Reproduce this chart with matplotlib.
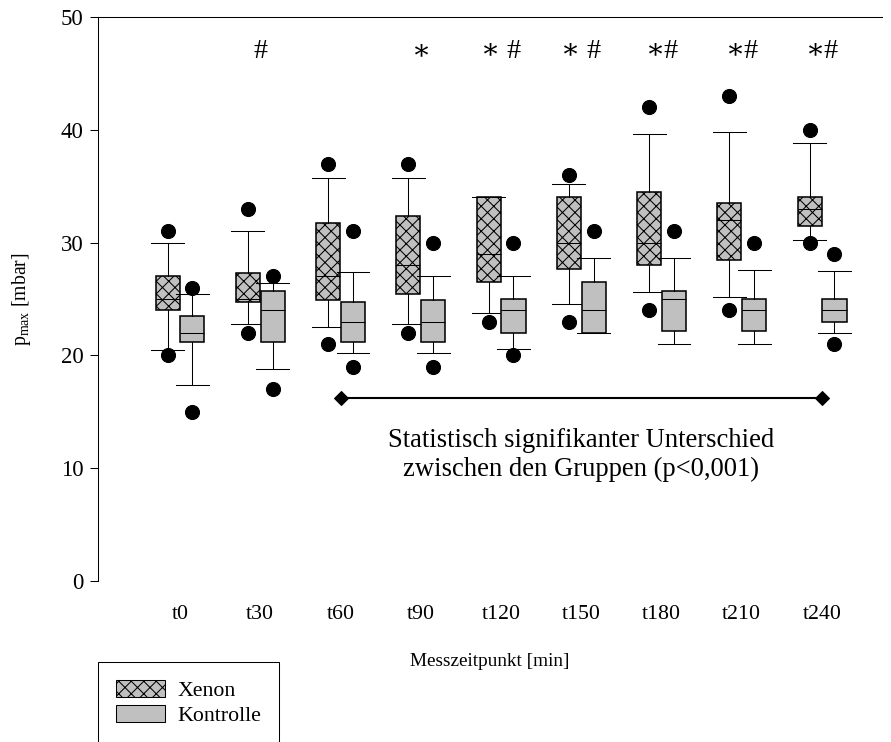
import numpy as np
import matplotlib
matplotlib.use("Agg")
import matplotlib.pyplot as plt
from matplotlib.patches import Patch

plt.rcParams['font.family'] = ['Liberation Serif', 'DejaVu Serif']
plt.rcParams['mathtext.fontset'] = 'custom'
plt.rcParams['mathtext.rm'] = 'Liberation Serif'
plt.rcParams['mathtext.it'] = 'Liberation Serif:italic'
plt.rcParams['hatch.linewidth'] = 1.0

# Messzeitpunkte
zeiten = ['t0', 't30', 't60', 't90', 't120', 't150', 't180', 't210', 't240']

# Xenon: 10./25./50./75./90. Perzentil und Einzelwerte (5./95.)
xe_p10 = [20.5, 22.8, 22.5, 22.8, 23.8, 24.6, 25.6, 25.2, 30.2]
xe_q1 = [24.0, 24.7, 24.9, 25.4, 26.5, 27.7, 28.0, 28.5, 31.5]
xe_med = [25.0, 25.0, 27.0, 28.0, 29.0, 30.0, 30.0, 32.0, 33.0]
xe_q3 = [27.0, 27.3, 31.7, 32.4, 34.0, 34.0, 34.5, 33.5, 34.0]
xe_p90 = [30.0, 31.0, 35.7, 35.7, 34.0, 35.2, 39.6, 39.8, 38.8]
xe_lo = [20, 22, 21, 22, 23, 23, 24, 24, 30]
xe_hi = [31, 33, 37, 37, np.nan, 36, 42, 43, 40]

# Kontrolle
ko_p10 = [17.4, 18.8, 20.2, 20.2, 20.6, 22.0, 21.0, 21.0, 22.0]
ko_q1 = [21.2, 21.2, 21.2, 21.2, 22.0, 22.0, 22.2, 22.2, 23.0]
ko_med = [22.0, 24.0, 23.0, 23.0, 24.0, 24.0, 25.0, 24.0, 24.0]
ko_q3 = [23.5, 25.7, 24.7, 24.9, 25.0, 26.5, 25.7, 25.0, 25.0]
ko_p90 = [25.4, 26.4, 27.4, 27.0, 27.0, 28.6, 28.6, 27.6, 27.5]
ko_lo = [15, 17, 19, 19, 20, np.nan, np.nan, np.nan, 21]
ko_hi = [26, 27, 31, 30, 30, 31, 31, 30, 29]

# Signifikanzen ueber den Boxen
zeichen = ['', '#', '', '\u2217', '\u2217 #', '\u2217 #', '\u2217#', '\u2217#', '\u2217#']
sig_von, sig_bis, sig_hoehe = 2, 8, 16.2


def stats(p10, q1, med, q3, p90, lo, hi):
    out = []
    for i in range(len(med)):
        fl = [v for v in (lo[i], hi[i]) if not np.isnan(v)]
        out.append(dict(whislo=p10[i], q1=q1[i], med=med[i], q3=q3[i],
                        whishi=p90[i], fliers=fl))
    return out


fig = plt.figure(figsize=(891 / 75, 742 / 75), dpi=75)
ax = fig.add_axes([98 / 891, 1 - 581 / 742, 784 / 891, 564 / 742])

x = np.arange(len(zeiten))
off = 0.155
bw = 0.30

common = dict(widths=bw, capwidths=0.41, patch_artist=True, manage_ticks=False,
              whiskerprops=dict(color='k', lw=1.0),
              capprops=dict(color='k', lw=1.0),
              medianprops=dict(color='k', lw=1.0),
              flierprops=dict(marker='o', markerfacecolor='k',
                              markeredgecolor='k', markersize=13.5))

b1 = ax.bxp(stats(xe_p10, xe_q1, xe_med, xe_q3, xe_p90, xe_lo, xe_hi),
            positions=x - off, **common)
b2 = ax.bxp(stats(ko_p10, ko_q1, ko_med, ko_q3, ko_p90, ko_lo, ko_hi),
            positions=x + off, **common)
for b in b1['boxes']:
    b.set_facecolor('#c0c0c0')
    b.set_edgecolor('k')
    b.set_linewidth(1.5)
    b.set_hatch('xx')
for b in b2['boxes']:
    b.set_facecolor('#c0c0c0')
    b.set_edgecolor('k')
    b.set_linewidth(1.5)

# Signifikanzlinie zwischen den Gruppen
ax.plot([sig_von, sig_bis], [sig_hoehe, sig_hoehe], color='k', lw=2,
        marker='D', markersize=9)
ax.text((sig_von + sig_bis) / 2, 11.2,
        'Statistisch signifikanter Unterschied\nzwischen den Gruppen (p<0,001)',
        ha='center', va='center', fontsize=25.5, linespacing=1.2)

for i, z in enumerate(zeichen):
    if z:
        ax.text(x[i], 46.9, z, ha='center', va='center', fontsize=27)

ax.set_xlim(-1.022, 8.747)
ax.set_ylim(0, 50)
ax.set_xticks(x)
ax.set_xticklabels(zeiten)
ax.set_yticks([0, 10, 20, 30, 40, 50])
ax.tick_params(axis='x', length=0, pad=23, labelsize=21)
ax.tick_params(axis='y', length=8, width=1, direction='out', pad=6, labelsize=22)
ax.spines['right'].set_visible(False)
ax.spines['bottom'].set_visible(False)
ax.spines['left'].set_linewidth(1)
ax.spines['top'].set_linewidth(1)

ax.set_xlabel('Messzeitpunkt [min]', fontsize=18.5)
ax.xaxis.set_label_coords(0.5, -0.127)
ax.set_ylabel(r'p$_{\mathrm{max}}$ [mbar]', fontsize=19)
ax.yaxis.set_label_coords(-0.083, 0.5)

handles = [Patch(facecolor='#c0c0c0', edgecolor='k', hatch='xx', label='Xenon'),
           Patch(facecolor='#c0c0c0', edgecolor='k', label='Kontrolle')]
leg = fig.legend(handles=handles, loc='upper left',
                 bbox_to_anchor=(98 / 891, 1 - 662 / 742),
                 bbox_transform=fig.transFigure, borderaxespad=0,
                 fontsize=21, handlelength=2.28, handleheight=0.82,
                 handletextpad=0.55, labelspacing=0.2, borderpad=0.8,
                 fancybox=False, edgecolor='k', framealpha=1)
leg.get_frame().set_linewidth(1)

fig.savefig('out.png', dpi=75)
